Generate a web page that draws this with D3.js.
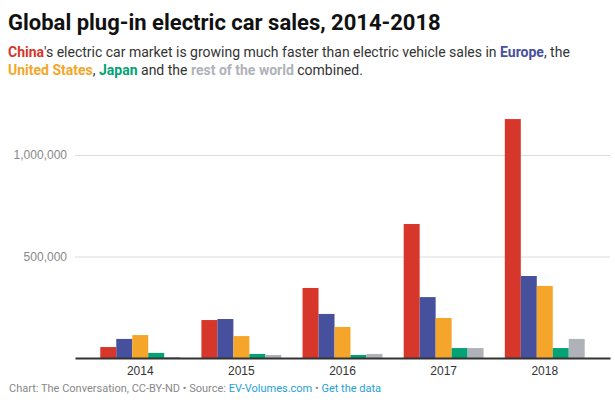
<!DOCTYPE html>
<html>
<head>
  <meta charset="utf-8">
  <style type="text/css">
  body { margin: 0; background: #fff; font-family: Roboto, "Noto Sans", sans-serif; }
  .title { font-size: 22px; font-weight: 700; fill: #111; }
  .sub { font-size: 14px; fill: #333; }
  .sub tspan.k { font-weight: 700; }
  .axis text { font-size: 12px; }
  .y.axis text { fill: #888; }
  .x.axis text { fill: #333; }
  .y.axis path { display: none; }
  .y.axis line { stroke: #ddd; stroke-width: 1px; }
  .x.axis path { stroke: #333; stroke-width: 2px; }
  .x.axis line { display: none; }
  .foot { font-size: 11px; fill: #888; }
  .foot .lnk { fill: #1f9fd6; }
  </style>
</head>
<body>
  <script src="https://d3js.org/d3.v7.min.js"></script>
  <script>
  // data
  var years = ["2014", "2015", "2016", "2017", "2018"];
  var regions = ["China", "Europe", "United States", "Japan", "Rest of world"];
  var china  = [54000, 187000, 345000, 660000, 1177000];
  var europe = [94000, 192000, 217000, 300000, 404000];
  var usa    = [113000, 108000, 153000, 197000, 355000];
  var japan  = [25000, 20000, 15000, 49000, 49000];
  var rest   = [5000, 15000, 20000, 49000, 94000];
  var yTicks = [500000, 1000000];

  var series = [china, europe, usa, japan, rest];
  var colors = ["#d7362b", "#47509c", "#f5a62a", "#02a274", "#b0b2b9"];

  var W = 615, H = 407;
  var margin = {top: 110, right: 5, bottom: 49, left: 75};
  var width = W - margin.left - margin.right;
  var height = H - margin.top - margin.bottom;

  var svg = d3.select("body").append("svg")
    .attr("width", W)
    .attr("height", H);

  // header
  svg.append("text").attr("class", "title")
    .attr("x", 8).attr("y", 30)
    .text("Global plug-in electric car sales, 2014-2018");

  var l1 = svg.append("text").attr("class", "sub").attr("x", 8).attr("y", 57);
  l1.append("tspan").attr("class", "k").style("fill", colors[0]).text("China");
  l1.append("tspan").text("'s electric car market is growing much faster than electric vehicle sales in ");
  l1.append("tspan").attr("class", "k").style("fill", colors[1]).text("Europe");
  l1.append("tspan").text(", the");

  var l2 = svg.append("text").attr("class", "sub").attr("x", 8).attr("y", 74.5);
  l2.append("tspan").attr("class", "k").style("fill", colors[2]).text("United States");
  l2.append("tspan").text(", ");
  l2.append("tspan").attr("class", "k").style("fill", colors[3]).text("Japan");
  l2.append("tspan").text(" and the ");
  l2.append("tspan").attr("class", "k").style("fill", colors[4]).text("rest of the world");
  l2.append("tspan").text(" combined.");

  var g = svg.append("g")
    .attr("transform", "translate(" + margin.left + "," + margin.top + ")");

  var x = d3.scaleBand()
    .domain(years)
    .range([0, width])
    .paddingInner(0.21)
    .paddingOuter(0.25);

  var xs = d3.scaleBand()
    .domain(regions)
    .range([0, x.bandwidth()]);

  var y = d3.scaleLinear()
    .domain([0, 1000000])
    .range([height, height - 203]);

  var yAxis = d3.axisLeft(y)
    .tickValues(yTicks)
    .tickSize(-width)
    .tickPadding(8)
    .tickFormat(d3.format(","));

  g.append("g")
    .attr("class", "y axis")
    .call(yAxis);

  // bars
  var groups = g.selectAll(".yr")
    .data(years)
    .enter().append("g")
    .attr("class", "yr")
    .attr("transform", function(d) { return "translate(" + x(d) + ",0)"; });

  groups.selectAll("rect")
    .data(function(d, i) {
      return regions.map(function(r, j) { return {r: r, v: series[j][i], c: colors[j]}; });
    })
    .enter().append("rect")
    .attr("x", function(d) { return xs(d.r); })
    .attr("width", xs.bandwidth())
    .attr("y", function(d) { return y(d.v); })
    .attr("height", function(d) { return height - y(d.v); })
    .attr("fill", function(d) { return d.c; });

  var xAxis = d3.axisBottom(x)
    .tickSize(0)
    .tickPadding(8);

  g.append("g")
    .attr("class", "x axis")
    .attr("transform", "translate(0," + height + ")")
    .call(xAxis);

  // footer
  var f = svg.append("text").attr("class", "foot").attr("x", 9).attr("y", 392);
  f.append("tspan").text("Chart: The Conversation, CC-BY-ND \u2022 Source: ");
  f.append("tspan").attr("class", "lnk").text("EV-Volumes.com");
  f.append("tspan").text(" \u2022 ");
  f.append("tspan").attr("class", "lnk").text("Get the data");
  </script>
</body>
</html>
